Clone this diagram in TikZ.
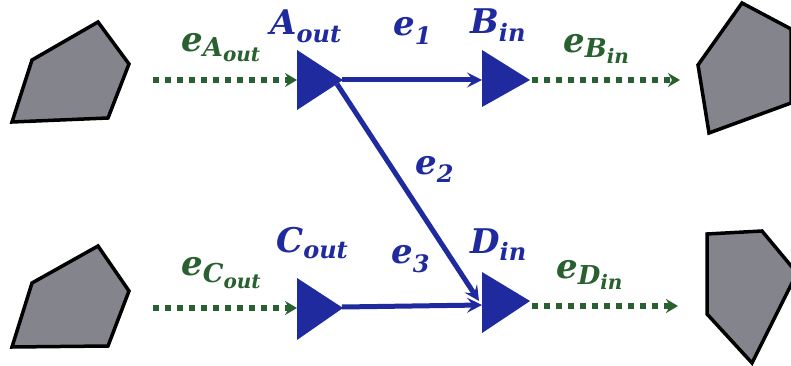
\documentclass[tikz,border=0pt]{standalone}
\usepackage{fontspec}
\setmainfont{DejaVu Serif}
\usetikzlibrary{arrows.meta}
\definecolor{eblue}{RGB}{30,42,158}
\definecolor{egreen}{RGB}{40,96,48}
\definecolor{pgray}{RGB}{132,132,140}
\newcommand\mysub[2]{\raisebox{-#1}{\fontsize{24}{24}\selectfont #2}}
\newcommand\mygsub[2]{\raisebox{-#1}{\fontsize{26}{26}\selectfont #2}}
\newcommand\mysubsub[2]{\raisebox{-#1}{\fontsize{20}{20}\selectfont #2}}
\tikzset{
  lab/.style={anchor=base west, inner sep=0pt, font=\fontsize{34}{34}\selectfont\bfseries\itshape},
  glab/.style={lab, text=egreen},
  blab/.style={lab, text=eblue},
  port/.style={fill=eblue},
  block/.style={draw=black, line width=3.5pt, line join=miter, fill=pgray},
  link/.style={draw=eblue, line width=5pt, -{Stealth[length=15pt,width=15pt,inset=6pt]}},
  ext/.style={draw=egreen, line width=5.5pt, dash pattern=on 6pt off 6pt,
     -{Stealth[length=12pt,width=14pt,inset=4pt]}}
}
\begin{document}
\begin{tikzpicture}[x=1pt,y=-1pt]
\useasboundingbox (0,0) rectangle (791,366);
\clip (0,0) rectangle (791,366);
% blocks
\path[block] (32,60) -- (98,22) -- (129,64) -- (108,118) -- (12,122) -- cycle;
\path[block] (32,283) -- (98,246) -- (129,291) -- (108,346) -- (12,347) -- cycle;
\path[block] (698,65) -- (742,3) -- (791,29) -- (791,103) -- (709,133) -- cycle;
\path[block] (707,234) -- (762,231) -- (797,273) -- (752,363) -- (707,314) -- cycle;
% ports
\path[port] (297,50) -- (343,80) -- (297,110) -- cycle;
\path[port] (482,50) -- (530,80) -- (482,107) -- cycle;
\path[port] (297,278) -- (343,308) -- (297,340) -- cycle;
\path[port] (482,272) -- (530,301) -- (482,333) -- cycle;
\coordinate (Atip) at (342,80);
\coordinate (Atip2) at (337,84);
\coordinate (Ain) at (297,80);
\coordinate (Bin) at (482,80);
\coordinate (Btip) at (532,80);
\coordinate (Ctip) at (342,307);
\coordinate (Cin) at (297,308);
\coordinate (Din) at (482,305);
\coordinate (Din2) at (479,301);
\coordinate (Dtip) at (532,306);
\coordinate (Lsrc) at (153,80);
\coordinate (Lsrc2) at (153,308);
\coordinate (Rdst) at (680,80);
\coordinate (Rdst2) at (678,306);
% internal links
\draw[link] (Atip) -- (Bin);
\draw[link] (Atip2) -- (Din2);
\draw[link] (Ctip) -- (Din);
% external links
\draw[ext] (Lsrc) -- (Ain);
\draw[ext] (Lsrc2) -- (Cin);
\draw[ext] (Btip) -- (Rdst);
\draw[ext] (Dtip) -- (Rdst2);
% labels
\node[blab] (lA) at (270,35) {A\mysub{8pt}{out}};
\node[blab] (lB) at (470,34) {B\mysub{8pt}{in}};
\node[blab] (lC) at (276,252) {C\mysub{6pt}{out}};
\node[blab] (lD) at (470,253) {D\mysub{7pt}{in}};
\node[blab] (l1) at (393,36) {e\mysub{9pt}{1}};
\node[blab] (l2) at (415,175) {e\mysub{8pt}{2}};
\node[blab] (l3) at (391,263) {e\mysub{9pt}{3}};
\node[glab] (lgA) at (181,52) {e\mygsub{5pt}{A\mysubsub{5pt}{out}}};
\node[glab] (lgB) at (563,53) {e\mygsub{5pt}{B\mysubsub{6pt}{in}}};
\node[glab] (lgC) at (181,275) {e\mygsub{7pt}{C\mysubsub{6pt}{out}}};
\node[glab] (lgD) at (556,278) {e\mygsub{6pt}{D\mysubsub{5pt}{in}}};
\end{tikzpicture}
\end{document}
